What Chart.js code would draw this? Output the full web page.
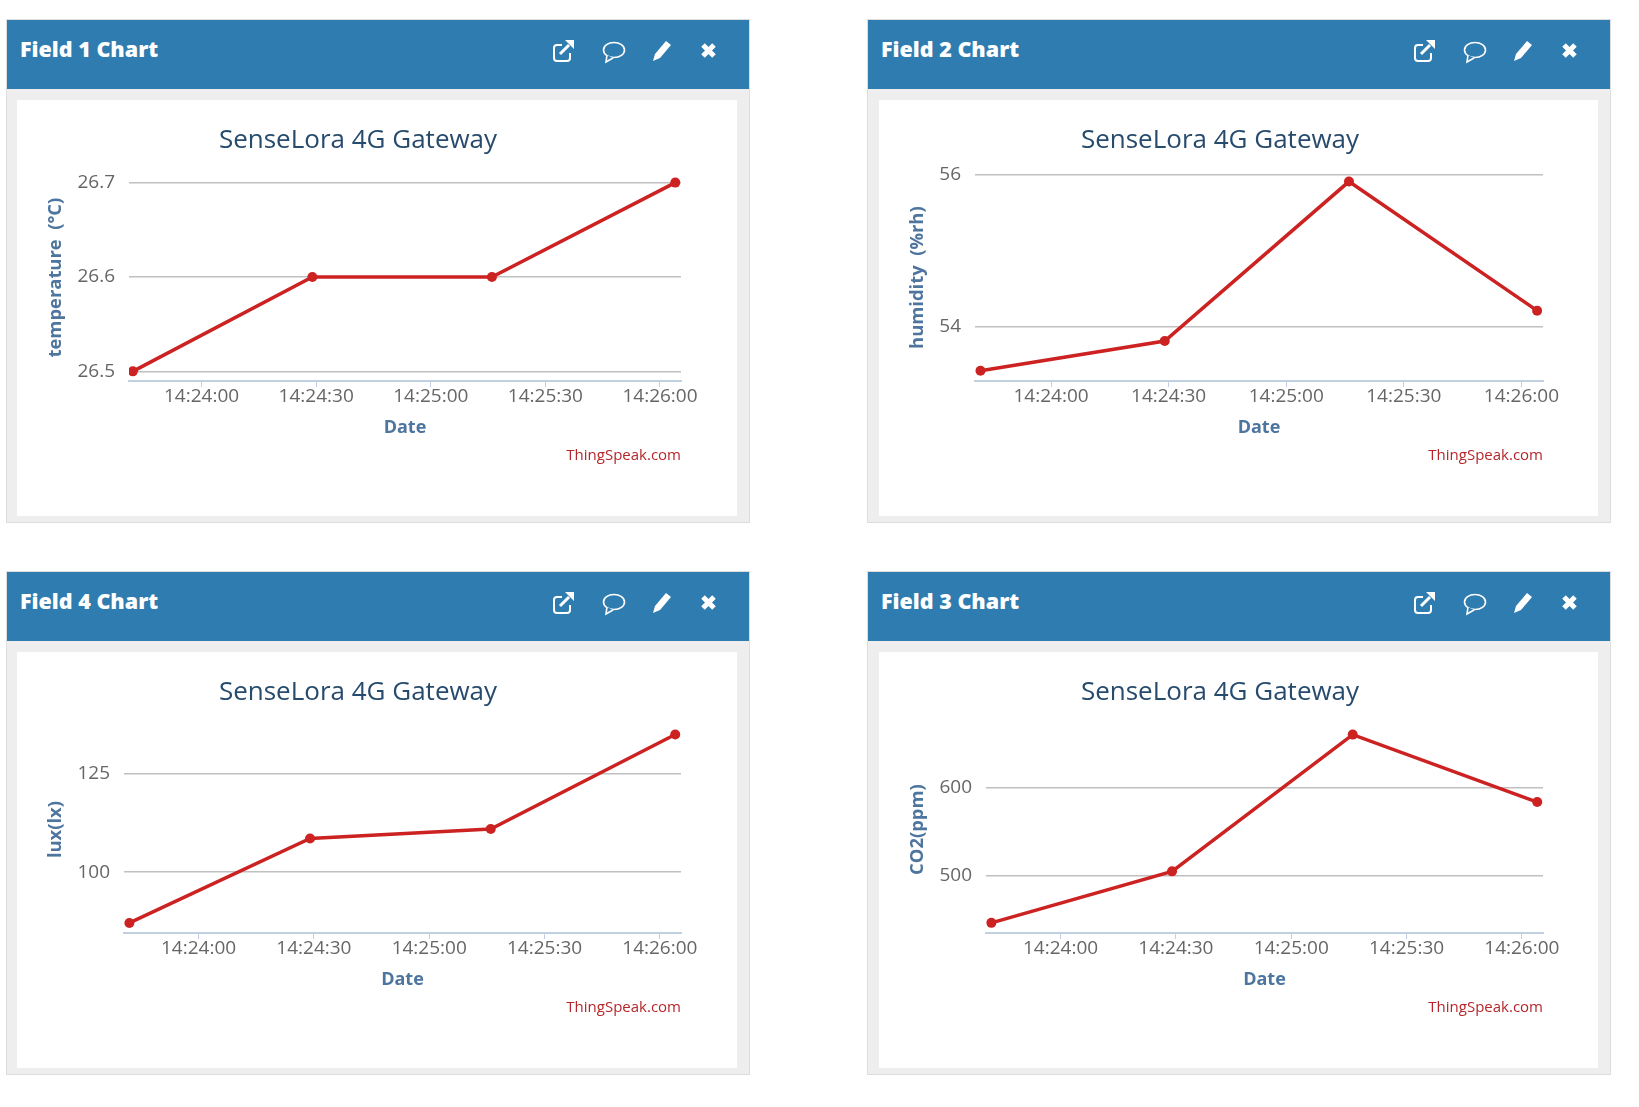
<!DOCTYPE html>
<html>
<head>
<meta charset="utf-8">
<title>SenseLora 4G Gateway</title>
<script src="https://cdn.jsdelivr.net/npm/chart.js@4"></script>
<style>
  html, body { margin: 0; padding: 0; background: #fff; }
  body { width: 1639px; height: 1107px; position: relative; overflow: hidden; font-family: "Open Sans", sans-serif; }
  .panel { position: absolute; width: 742px; height: 502px; background: #eee; border: 1px solid #ddd; box-sizing: content-box; }
  .head { position: absolute; left: 0; top: 0; right: 0; height: 69px; background: #2f7cb0; color: #fff; font-weight: 700; font-size: 21.5px; }
  .head b { position: absolute; left: 13px; top: 14px; line-height: 29px; }
  .head svg { position: absolute; top: 0; left: 0; }
  .body { position: absolute; left: 10px; top: 80px; width: 720px; height: 416px; background: #fff; }
  .panel.second .body { left: 11px; width: 719px; }
  canvas { position: absolute; left: 0; top: 0; }
  .credit { position: absolute; right: 56px; top: 344px; font-size: 15px; line-height: 20px; color: #b5262a; }
  .panel.second .credit { right: 55px; }
</style>
</head>
<body>
<script>
// valores
const sampleTimes = ["14:23:42", "14:24:29", "14:25:16", "14:26:04"];
const temperature = [26.5, 26.6, 26.6, 26.7];
const humidity = [53.42, 53.81, 55.91, 54.21];
const lux = [87.15, 108.5, 110.9, 134.8];
const co2 = [446, 504.8, 661, 584];
const timeTicksStep = 30;

const LINE_RED = "#cc2222";
const FONT = "'Open Sans', sans-serif";

function toSeconds(t) {
  const p = t.split(":").map(Number);
  return p[0] * 3600 + p[1] * 60 + p[2];
}

function toClock(s) {
  const h = Math.floor(s / 3600);
  const m = Math.floor((s % 3600) / 60);
  const sec = Math.round(s % 60);
  return [h, m, sec].map((n) => String(n).padStart(2, "0")).join(":");
}

const ICONS = `<svg width="742" height="69" fill="none" stroke="#fff">
  <path d="M555 25h-5a3 3 0 0 0-3 3v10a3 3 0 0 0 3 3h10a3 3 0 0 0 3-3v-5" stroke-width="2"/>
  <path d="M553 34l9-9" stroke-width="3"/><path d="M558 20h9v9z" fill="#fff" stroke="none"/>
  <ellipse cx="607" cy="30" rx="10.5" ry="7.5" stroke-width="1.6"/>
  <path d="M600 35l-1 7 7-4" stroke-width="1.6" fill="#2f7cb0"/>
  <path d="M659 21l5 4-11 13-7 3 2-7z" fill="#fff" stroke="none"/>
  <path d="M696 25l11 11M707 25l-11 11" stroke-width="5"/>
</svg>`;

function addPanel(field, x, y, yLabel, values, scale) {
  const panel = document.createElement("div");
  panel.className = x > 800 ? "panel second" : "panel";
  panel.style.left = x + "px";
  panel.style.top = y + "px";
  panel.innerHTML = `<div class="head"><b>Field ${field} Chart</b>${ICONS}</div>
    <div class="body"><canvas width="681" height="416"></canvas><span class="credit">ThingSpeak.com</span></div>`;
  document.body.appendChild(panel);

  const points = sampleTimes.map((t, i) => ({ x: toSeconds(t), y: values[i] }));
  const base = toSeconds("14:24:00");

  new Chart(panel.querySelector("canvas").getContext("2d"), {
    type: "line",
    data: {
      datasets: [{
        label: yLabel,
        data: points,
        borderColor: LINE_RED,
        backgroundColor: LINE_RED,
        borderWidth: 3.5,
        pointRadius: 5,
        pointBorderWidth: 0,
        tension: 0,
      }],
    },
    options: {
      responsive: false,
      animation: false,
      devicePixelRatio: 1,
      layout: { padding: { left: 18, right: 17, top: 0, bottom: 77 } },
      plugins: {
        legend: { display: false },
        tooltip: { enabled: false },
        title: {
          display: true,
          text: "SenseLora 4G Gateway",
          color: "#274b6d",
          font: { family: FONT, size: 26, weight: "normal", lineHeight: 1.2 },
          padding: { top: 25, bottom: 18 },
        },
      },
      scales: {
        x: {
          type: "linear",
          min: base + scale.xMin,
          max: base + 125.5,
          afterFit(s) { s.height = 58; s.paddingLeft = 0; s.paddingRight = 0; },
          border: { color: "#c0d0e0", width: 2 },
          grid: { drawOnChartArea: false, tickColor: "#c0d0e0", tickLength: 6 },
          ticks: {
            stepSize: timeTicksStep,
            includeBounds: false,
            autoSkip: false,
            maxRotation: 0,
            padding: -2,
            color: "#666",
            font: { family: FONT, size: 19 },
            callback: (v) => toClock(v),
          },
          title: {
            display: true,
            text: "Date",
            color: "#4d759e",
            padding: 0,
            font: { family: FONT, size: 18, weight: "bold", lineHeight: 1.2 },
          },
        },
        y: {
          min: scale.min,
          max: scale.max,
          afterFit(s) { s.width = scale.plotLeft - 18; s.paddingTop = 0; s.paddingBottom = 0; },
          border: { display: false },
          grid: { color: "#c0c0c0", lineWidth: 1.5, drawTicks: false },
          ticks: {
            stepSize: scale.step,
            includeBounds: false,
            padding: 14,
            color: "#666",
            font: { family: FONT, size: 19 },
            callback: (v) => v.toFixed(scale.decimals),
          },
          title: {
            display: true,
            text: yLabel,
            color: "#4d759e",
            padding: { top: 10, bottom: 0 },
            font: { family: FONT, size: 18.4, weight: "bold", lineHeight: 1.2 },
          },
        },
      },
    },
  });
}

addPanel(1, 6, 19, "temperature  (°C)", temperature, { min: 26.4898, max: 26.7089, step: 0.1, decimals: 1, plotLeft: 112, xMin: -19 });
addPanel(2, 867, 19, "humidity  (%rh)", humidity, { min: 53.284, max: 56.007, step: 2, decimals: 0, plotLeft: 96, xMin: -19.4 });
addPanel(4, 6, 571, "lux(lx)", lux, { min: 84.6, max: 136.9, step: 25, decimals: 0, plotLeft: 107, xMin: -19.4 });
addPanel(3, 867, 571, "CO2(ppm)", co2, { min: 434.4, max: 670.6, step: 100, decimals: 0, plotLeft: 107, xMin: -19.4 });
</script>
</body>
</html>
